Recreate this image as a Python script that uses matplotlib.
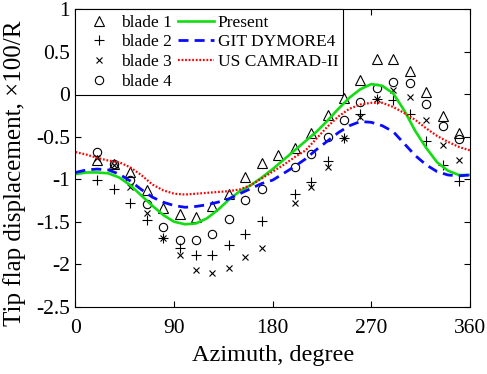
import numpy as np
import matplotlib
matplotlib.use("Agg")
import matplotlib.pyplot as plt

plt.rcParams['font.family'] = ['Liberation Serif', 'DejaVu Serif']
plt.rcParams['axes.unicode_minus'] = False

# measured azimuths (deg) for the four blades
azim = [20, 35, 50, 65, 80, 95, 110, 125, 140, 155, 170, 185,
        200, 215, 230, 245, 260, 275, 290, 305, 320, 335, 350]
nan = np.nan
blade1 = [-0.77, -0.82, -0.92, -1.13, -1.34, -1.41, -1.45, -1.32, -1.17, -0.97, -0.81, -0.71,
          -0.63, -0.45, -0.24, -0.04, 0.17, 0.41, 0.42, 0.28, 0.03, -0.25, -0.45]
blade2 = [-1.01, -1.11, -1.28, -1.48, -1.69, -1.81, -1.89, -1.89, -1.77, -1.64, -1.49, nan,
          -1.17, -1.03, -0.79, -0.52, -0.23, -0.05, -0.07, -0.23, -0.55, -0.83, -1.02]
blade3 = [-0.75, -0.83, -1.09, -1.40, -1.69, -1.89, -2.07, -2.10, -2.04, -1.91, -1.81, nan,
          -1.28, -1.09, -0.85, -0.52, -0.27, -0.05, 0.05, -0.03, -0.30, -0.60, -0.77]
blade4 = [-0.68, -0.82, -1.01, -1.29, -1.56, -1.72, -1.71, -1.65, -1.47, -1.25, -1.11, nan,
          -0.85, -0.70, -0.50, -0.30, -0.09, 0.07, 0.15, 0.13, -0.11, -0.37, -0.53]

# predictions, read every 10 deg
psi = [0, 10, 20, 30, 40, 50, 60, 70, 80, 90, 100, 110, 120, 130, 140, 150, 160, 170, 180,
       190, 200, 210, 220, 230, 240, 250, 260, 270, 280, 290, 300, 310, 320, 330, 340, 350, 360]
present = [-0.94, -0.92, -0.92, -0.93, -0.98, -1.07, -1.19, -1.31, -1.42, -1.50, -1.53, -1.52,
           -1.46, -1.36, -1.24, -1.14, -1.07, -0.98, -0.88, -0.77, -0.66, -0.55, -0.44,
           -0.31, -0.17, -0.04, 0.06, 0.12, 0.10, 0.01, -0.19, -0.43, -0.63, -0.80, -0.90, -0.95, -0.95]
dymore = [-0.92, -0.89, -0.88, -0.89, -0.94, -1.02, -1.12, -1.21, -1.27, -1.31, -1.33, -1.32,
          -1.30, -1.27, -1.23, -1.17, -1.11, -1.05, -1.01, -0.93, -0.85, -0.76, -0.65,
          -0.55, -0.45, -0.37, -0.32, -0.33, -0.37, -0.44, -0.58, -0.72, -0.83, -0.91, -0.95, -0.96, -0.95]
camrad = [-0.68, -0.71, -0.75, -0.78, -0.80, -0.86, -0.95, -1.06, -1.13, -1.17, -1.18, -1.17,
          -1.16, -1.15, -1.14, -1.12, -1.07, -0.99, -0.91, -0.83, -0.74, -0.66, -0.52,
          -0.38, -0.26, -0.17, -0.12, -0.10, -0.10, -0.15, -0.22, -0.30, -0.40, -0.49, -0.56, -0.62, -0.66]

fig = plt.figure(figsize=(4.87, 3.74), dpi=100)
ax = fig.add_axes([0.155, 0.18, 0.81, 0.795])

mk = dict(linestyle='none', color='black', markerfacecolor='none', markeredgewidth=0.8)
ax.plot(azim, blade1, marker='^', markersize=6.5, label='blade 1', **mk)
ax.plot(azim, blade2, marker='+', markersize=7, label='blade 2', **mk)
ax.plot(azim, blade3, marker='x', markersize=4.5, label='blade 3', **mk)
ax.plot(azim, blade4, marker='o', markersize=6, label='blade 4', **mk)

ax.plot(psi, present, color='#11dd11', lw=1.9, label='Present')
ax.plot(psi, dymore, color='#0a0aff', lw=2.0, dashes=(3.6, 2.2), label='GIT DYMORE4')
ax.plot(psi, camrad, color='#ff0000', lw=1.6, dashes=(0.8, 0.8), label='US CAMRAD-II')

ax.set_xlim(0, 360)
ax.set_ylim(-2.5, 1)
ax.set_xticks([0, 90, 180, 270, 360])
ax.set_yticks([-2.5, -2, -1.5, -1, -0.5, 0, 0.5, 1])
ax.set_yticklabels(['-2.5', '-2', '-1.5', '-1', '-0.5', '0', '0.5', '1'])
ax.tick_params(direction='in', top=True, right=True, length=4, width=0.8,
               labelsize=15.5)
ax.tick_params(axis='x', pad=9)
ax.tick_params(axis='y', pad=4)
for s in ax.spines.values():
    s.set_linewidth(0.8)

ax.set_xlabel('Azimuth, degree', fontsize=17.5, labelpad=5)
ax.set_ylabel('Tip flap displacement, ×100/R', fontsize=18)
ax.yaxis.set_label_coords(-0.125, 0.45)

leg = ax.legend(loc='upper left', ncol=2, fontsize=12.5, frameon=True, fancybox=False,
                edgecolor='black', framealpha=1, borderaxespad=0, handlelength=2.1,
                handletextpad=0.2, columnspacing=0.35, labelspacing=0.2, borderpad=0.3)
leg.get_frame().set_linewidth(0.8)

fig.savefig('out.png', dpi=100)
